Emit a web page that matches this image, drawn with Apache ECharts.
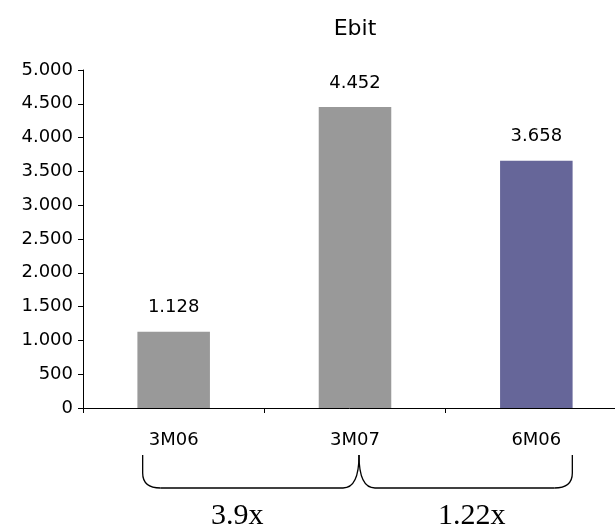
<!DOCTYPE html>
<html>
<head>
<meta charset="utf-8">
<script src="https://cdn.jsdelivr.net/npm/echarts@6/dist/echarts.min.js"></script>
<style>
html,body{margin:0;padding:0;background:#fff;}
#chart{width:615px;height:529px;}
</style>
</head>
<body>
<div id="chart"></div>
<script>
var categories = ['3M06', '3M07', '6M06'];
var ebitValues = [1128, 4452, 3658];
var barColors = ['#999999', '#999999', '#666699'];
var yTicks = [0, 500, 1000, 1500, 2000, 2500, 3000, 3500, 4000, 4500, 5000];
var ratioLabels = ['3.9x', '1.22x'];
var titleText = 'Ebit';

function fmt(v) {
  return String(v).replace(/\B(?=(\d{3})+(?!\d))/g, '.');
}

var chart = echarts.init(document.getElementById('chart'), null, {renderer: 'canvas'});
var font = 'DejaVu Sans, Liberation Sans, Arial, sans-serif';
var serif = 'Liberation Serif, Times New Roman, serif';

chart.setOption({
  animation: false,
  backgroundColor: '#ffffff',
  title: {
    text: titleText,
    left: 350, top: 13,
    textAlign: 'center',
    textStyle: {fontFamily: font, fontSize: 22, fontWeight: 'normal', color: '#000'}
  },
  grid: {left: 83, right: -12, top: 70, bottom: 121, containLabel: false, outerBoundsMode: 'none'},
  xAxis: {
    type: 'category',
    data: categories,
    axisLine: {lineStyle: {color: '#000', width: 1}},
    axisTick: {show: true, length: 5, alignWithLabel: false, lineStyle: {color: '#000'}},
    axisLabel: {fontFamily: font, fontSize: 18, color: '#000', margin: 23}
  },
  yAxis: {
    type: 'value',
    min: yTicks[0], max: yTicks[yTicks.length - 1], interval: yTicks[1] - yTicks[0],
    axisLine: {show: true, lineStyle: {color: '#000', width: 1}},
    axisTick: {show: true, length: 5, lineStyle: {color: '#000'}},
    splitLine: {show: false},
    axisLabel: {fontFamily: font, fontSize: 18, color: '#000', margin: 10, formatter: fmt}
  },
  series: [{
    type: 'bar',
    data: ebitValues.map(function (v, i) { return {value: v, itemStyle: {color: barColors[i]}}; }),
    barWidth: '40%',
    label: {
      show: true, position: 'top', distance: 15,
      fontFamily: font, fontSize: 18, color: '#000',
      formatter: function (p) { return fmt(p.value); }
    }
  }]
});

// Bracket annotations under categories, positioned from the axis scale
var px = categories.map(function (c) { return chart.convertToPixel({xAxisIndex: 0}, c); });
var brTop = 455, brBot = 488;
function st() { return {stroke: '#000', lineWidth: 1.3, fill: 'none'}; }
function curve(x1, y1, cx, cy, x2, y2) {
  return {type: 'bezierCurve', shape: {x1: x1, y1: y1, x2: x2, y2: y2, cpx1: cx, cpy1: cy}, style: st()};
}
function seg(x1, y1, x2, y2) {
  return {type: 'line', shape: {x1: x1, y1: y1, x2: x2, y2: y2}, style: st()};
}
function half(a, b, leftOuter) {
  var els = [];
  if (leftOuter) {
    els.push(seg(a, brTop, a, brBot - 15));
    els.push(curve(a, brBot - 15, a, brBot, a + 18, brBot));
    els.push(seg(a + 18, brBot, b - 16, brBot));
    els.push(curve(b - 16, brBot, b, brBot, b, brTop));
  } else {
    els.push(curve(a, brTop, a, brBot, a + 16, brBot));
    els.push(seg(a + 16, brBot, b - 18, brBot));
    els.push(curve(b - 18, brBot, b, brBot, b, brBot - 15));
    els.push(seg(b, brBot - 15, b, brTop));
  }
  return els;
}
var xL = px[0] - 31, xC = px[1] + 4, xR = px[2] + 36;
var g = [].concat(half(xL, xC, true), half(xC, xR, false));
g.push({type: 'text', x: (px[0] + px[1]) / 2 - 27, y: 516,
  style: {text: ratioLabels[0], fontFamily: serif, fontSize: 30, fill: '#000', align: 'center', verticalAlign: 'middle'}});
g.push({type: 'text', x: (px[1] + px[2]) / 2 + 26, y: 516,
  style: {text: ratioLabels[1], fontFamily: serif, fontSize: 30, fill: '#000', align: 'center', verticalAlign: 'middle'}});
chart.setOption({graphic: {elements: g}});
</script>
</body>
</html>
